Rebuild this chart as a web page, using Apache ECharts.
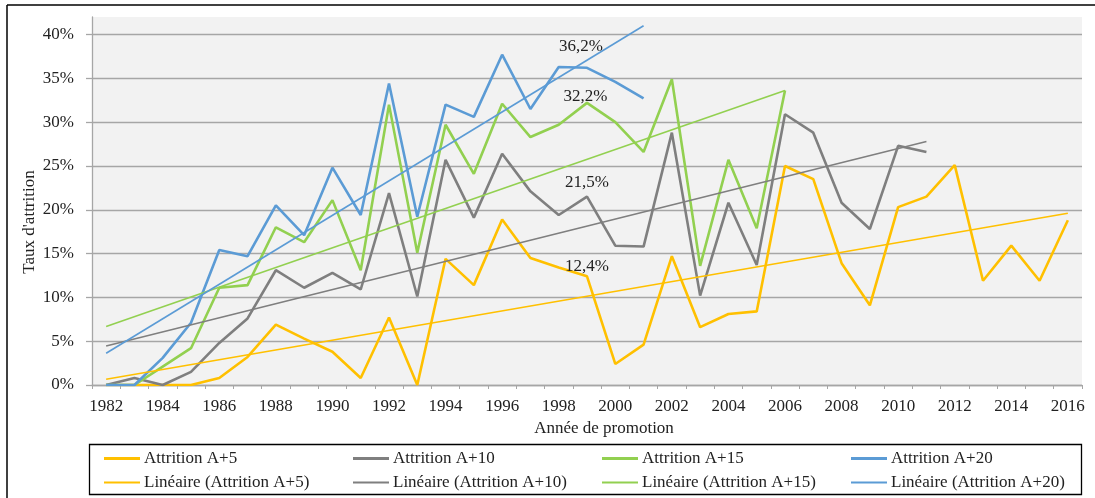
<!DOCTYPE html>
<html>
<head>
<meta charset="utf-8">
<title>Taux d'attrition</title>
<script src="https://cdn.jsdelivr.net/npm/echarts@6/dist/echarts.min.js"></script>
<style>
html, body { margin: 0; padding: 0; background: #fff; }
#main { width: 1095px; height: 498px; }
</style>
</head>
<body>
<div id="main"></div>
<script>
// années de promotion
var years = ['1982','1983','1984','1985','1986','1987','1988','1989','1990','1991',
             '1992','1993','1994','1995','1996','1997','1998','1999','2000','2001',
             '2002','2003','2004','2005','2006','2007','2008','2009','2010','2011',
             '2012','2013','2014','2015','2016'];

// taux d'attrition en %
var attritionA5  = [0, 0, 0, 0, 0.8, 3.2, 6.9, 5.3, 3.8, 0.8, 7.7, 0, 14.4, 11.4, 18.9, 14.5, 13.4, 12.4,
                    2.4, 4.6, 14.7, 6.6, 8.1, 8.4, 25.0, 23.5, 13.9, 9.1, 20.3, 21.5, 25.1, 11.9, 15.9, 11.9, 18.8];
var attritionA10 = [0, 0.8, 0, 1.5, 4.8, 7.6, 13.1, 11.1, 12.8, 10.9, 21.9, 10.1, 25.7, 19.1, 26.4, 22.1, 19.4, 21.5,
                    15.9, 15.8, 28.8, 10.2, 20.8, 13.7, 30.9, 28.8, 20.8, 17.8, 27.3, 26.6];
var attritionA15 = [0, 0, 2.1, 4.2, 11.1, 11.4, 18.0, 16.3, 21.1, 13.1, 32.0, 15.1, 29.7, 24.1, 32.1, 28.3, 29.7, 32.2,
                    30.0, 26.6, 34.9, 13.6, 25.7, 17.9, 33.6];
var attritionA20 = [0, 0, 3.1, 7.1, 15.4, 14.7, 20.5, 17.1, 24.8, 19.4, 34.4, 19.2, 32.0, 30.6, 37.7, 31.5, 36.3, 36.2,
                    34.6, 32.7];

// droites de tendance (début / fin)
var trendA5  = [['1982', 0.65], ['2016', 19.6]];
var trendA10 = [['1982', 4.46], ['2011', 27.8]];
var trendA15 = [['1982', 6.67], ['2006', 33.6]];
var trendA20 = [['1982', 3.62], ['2001', 41.0]];

// année annotée
var labelYear = 17; // 1999
var labelOffsets = [[0, 4.5], [0, 0], [-1.5, 8], [-6, -7.5]];

var yTicks = [0, 5, 10, 15, 20, 25, 30, 35, 40];

var names = ['Attrition A+5', 'Attrition A+10', 'Attrition A+15', 'Attrition A+20'];
var colors = ['#FFC000', '#7F7F7F', '#92D050', '#5B9BD5'];

var font = 'Liberation Serif';
var textColor = '#222';

// la valeur de 1999 porte une étiquette
function withLabel(values, k) {
    return values.map(function (v, i) {
        if (i !== labelYear) return v;
        return {
            value: v,
            symbol: 'circle',
            symbolSize: 1,
            label: {
                show: true,
                position: 'top',
                offset: labelOffsets[k],
                formatter: function (p) { return p.value.toFixed(1).replace('.', ',') + '%'; },
                fontFamily: font,
                fontSize: 17,
                color: textColor
            }
        };
    });
}

var myChart = echarts.init(document.getElementById('main'));

var dataSeries = [attritionA5, attritionA10, attritionA15, attritionA20];
var trendSeries = [trendA5, trendA10, trendA15, trendA20];

var series = [];
dataSeries.forEach(function (d, k) {
    series.push({
        name: names[k],
        type: 'line',
        data: withLabel(d, k),
        symbol: 'none',
        lineStyle: { color: colors[k], width: 2.6 },
        itemStyle: { color: colors[k] },
        z: 2 + k
    });
});
trendSeries.forEach(function (d, k) {
    series.push({
        name: 'Linéaire (' + names[k] + ')',
        type: 'line',
        data: d,
        symbol: 'none',
        lineStyle: { color: colors[k], width: 1.6 },
        itemStyle: { color: colors[k] },
        z: 10
    });
});

// une légende par case (4 colonnes, 2 lignes)
var legendCols = [104, 353, 602, 851];
var legendRows = [450, 474];
var legends = [];
series.forEach(function (s, i) {
    var row = Math.floor(i / 4);
    legends.push({
        data: [s.name],
        left: legendCols[i % 4],
        top: legendRows[row],
        padding: 0,
        icon: 'rect',
        itemWidth: 36,
        itemHeight: row === 0 ? 3 : 2,
        selectedMode: false,
        textStyle: { fontFamily: font, fontSize: 17, color: textColor, padding: [0, 0, 0, -1] }
    });
});

var option = {
    animation: false,
    backgroundColor: '#fff',
    textStyle: { fontFamily: font },
    grid: {
        left: 92,
        right: 13,
        top: 17,
        bottom: 113,
        show: true,
        backgroundColor: '#f2f2f2',
        borderWidth: 0
    },
    legend: legends,
    xAxis: {
        type: 'category',
        data: years,
        boundaryGap: true,
        name: 'Année de promotion',
        nameLocation: 'middle',
        nameGap: 35,
        nameTextStyle: { fontFamily: font, fontSize: 17, color: textColor, padding: [0, 0, 0, 34] },
        axisLine: { lineStyle: { color: '#a6a6a6', width: 1.3 } },
        axisTick: { show: true, interval: 0, length: 4, lineStyle: { color: '#a6a6a6' } },
        axisLabel: { interval: 1, margin: 13, fontFamily: font, fontSize: 17, color: textColor }
    },
    yAxis: {
        type: 'value',
        min: 0,
        max: 42,
        interval: 5,
        name: "Taux d'attrition",
        nameLocation: 'middle',
        nameGap: 54,
        nameMoveOverlap: false,
        nameTextStyle: { fontFamily: font, fontSize: 17, color: textColor, padding: [0, 42, 0, 0] },
        axisLine: { show: true, lineStyle: { color: '#a6a6a6', width: 1.3 } },
        axisTick: { show: true, length: 6, customValues: yTicks, lineStyle: { color: '#a6a6a6', width: 1.3 } },
        axisLabel: {
            customValues: yTicks,
            margin: 18,
            formatter: '{value}%',
            fontFamily: font,
            fontSize: 17,
            color: textColor
        },
        splitLine: { show: true, lineStyle: { color: '#a6a6a6', width: 1.3 } }
    },
    graphic: [
        { type: 'line', shape: { x1: 7, y1: 5, x2: 1095, y2: 5 }, style: { stroke: '#000', lineWidth: 1.5 } },
        { type: 'line', shape: { x1: 7, y1: 5, x2: 7, y2: 498 }, style: { stroke: '#000', lineWidth: 1.5 } },
        { type: 'rect', shape: { x: 89.5, y: 444.5, width: 992, height: 50 }, style: { fill: 'none', stroke: '#000', lineWidth: 1.3 } }
    ],
    series: series
};

myChart.setOption(option);
</script>
</body>
</html>
